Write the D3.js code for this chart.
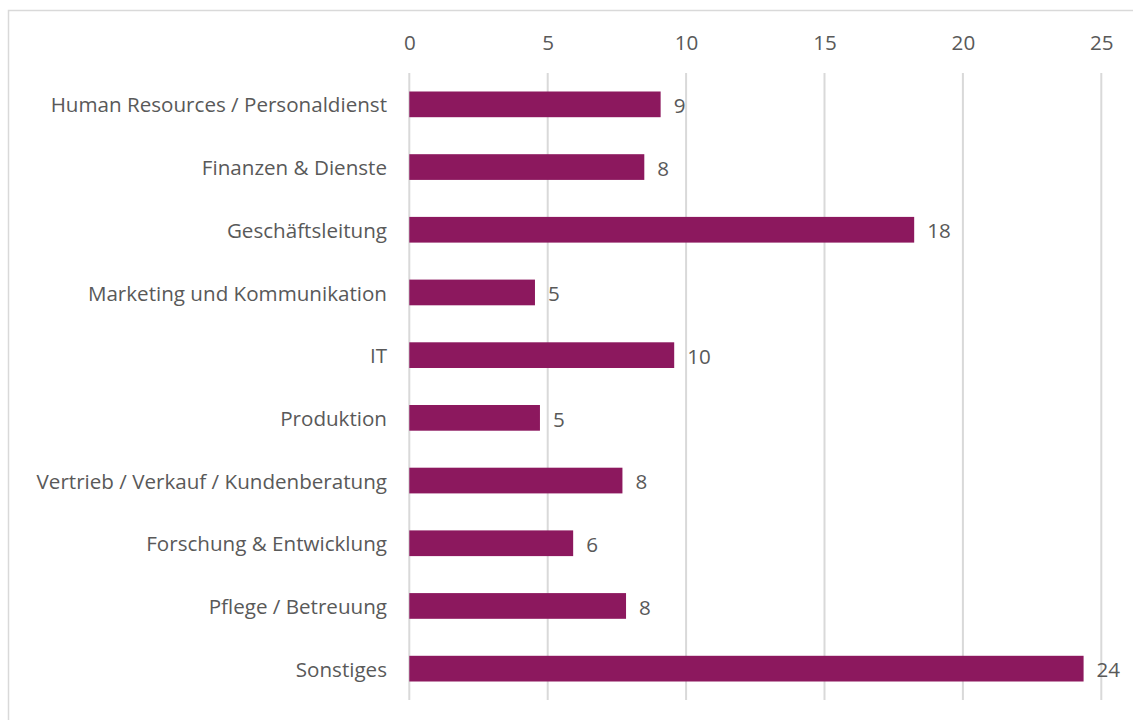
<!DOCTYPE html>
<html><head><meta charset="utf-8">
<script src="https://cdn.jsdelivr.net/npm/d3@7"></script>
<style>
html,body{margin:0;padding:0;background:#fff;}
svg{display:block;font-family:"Open Sans",sans-serif;}
</style></head>
<body>
<svg id="chart" width="1133" height="720"></svg>
<script>
const categories = [
  "Human Resources / Personaldienst",
  "Finanzen & Dienste",
  "Geschäftsleitung",
  "Marketing und Kommunikation",
  "IT",
  "Produktion",
  "Vertrieb / Verkauf / Kundenberatung",
  "Forschung & Entwicklung",
  "Pflege / Betreuung",
  "Sonstiges"
];
const values = [9.08, 8.49, 18.24, 4.54, 9.57, 4.72, 7.70, 5.92, 7.83, 24.36];
const xTicks = [0, 5, 10, 15, 20, 25];

const svg = d3.select("#chart");
const textColor = "#595959";
const gridColor = "#d9d9d9";
const barColor = "#8C185E";
const fontSize = "20.6px";

// chart frame
svg.append("rect")
  .attr("x", 8.5).attr("y", 10.5)
  .attr("width", 1140).attr("height", 730)
  .attr("fill", "none").attr("stroke", gridColor).attr("stroke-width", 1.5);

const x = d3.scaleLinear().domain([0, 25]).range([409.3, 1101.3]);
const y = d3.scaleBand().domain(categories).range([73, 700])
  .paddingInner(0.59).paddingOuter(0.295);

// gridlines
svg.append("g").selectAll("line").data(xTicks).join("line")
  .attr("x1", d => x(d)).attr("x2", d => x(d))
  .attr("y1", 73).attr("y2", 700)
  .attr("stroke", gridColor).attr("stroke-width", 2);

// top axis labels
const xAxis = d3.axisTop(x).tickValues(xTicks).tickSize(0).tickPadding(0);
const gx = svg.append("g").attr("transform", "translate(0,50)").call(xAxis);
gx.select(".domain").remove();
gx.selectAll("text").attr("fill", textColor).style("font-size", fontSize)
  .style("font-family", "'Open Sans',sans-serif");

// category labels
const yAxis = d3.axisLeft(y).tickSize(0).tickPadding(0);
const gy = svg.append("g").attr("transform", "translate(387,1.5)").call(yAxis);
gy.select(".domain").remove();
gy.selectAll("text").attr("fill", textColor).style("font-size", fontSize)
  .style("font-family", "'Open Sans',sans-serif");

// bars
svg.append("g").selectAll("rect").data(values).join("rect")
  .attr("x", x(0))
  .attr("y", (d, i) => y(categories[i]))
  .attr("width", d => x(d) - x(0))
  .attr("height", y.bandwidth())
  .attr("fill", barColor);

// value labels
const fmt = d3.format(".0f");
svg.append("g").selectAll("text").data(values).join("text")
  .attr("x", d => x(d) + 13)
  .attr("y", (d, i) => y(categories[i]) + y.bandwidth() / 2 + 1.5)
  .attr("dy", "0.35em")
  .attr("fill", textColor)
  .style("font-size", fontSize)
  .text(d => fmt(d));
</script>
</body></html>
